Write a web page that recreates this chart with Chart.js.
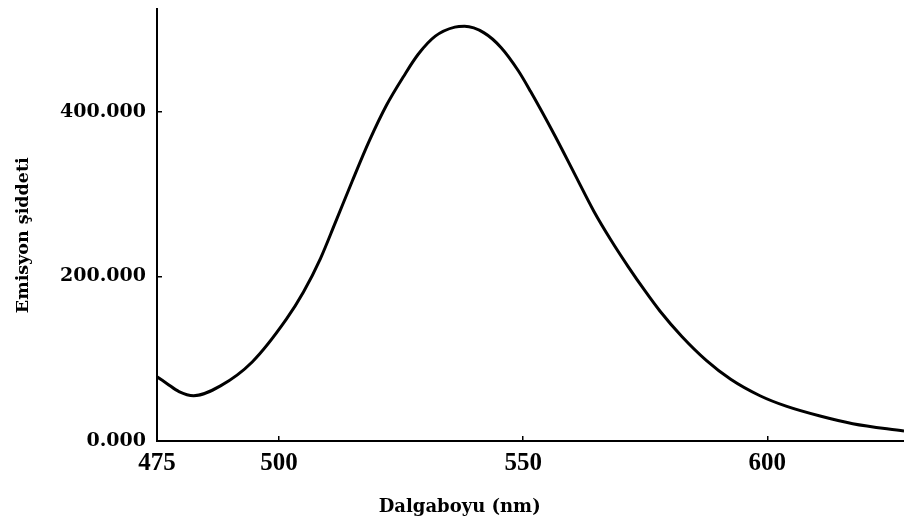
<!DOCTYPE html>
<html>
<head>
<meta charset="utf-8">
<script src="https://cdn.jsdelivr.net/npm/chart.js@4"></script>
<style>
  html, body { margin: 0; padding: 0; background: #fff; }
  canvas { display: block; }
</style>
</head>
<body>
<canvas id="spectrum" width="904" height="528"></canvas>
<script>
// emission spectrum, wavelength in nm
const wavelength = [475, 477, 479.5, 482.5, 488, 494.5, 501.5, 505, 508.5, 511.5, 515, 518.5, 522, 525.5, 528.5, 532, 536, 538, 542, 545.5, 549, 551.5, 556.5, 560.5, 564.5, 568, 571.5, 575, 578, 582.5, 587.5, 592.5, 598.5, 604, 611, 617.5, 628];
const intensity = [78, 70, 60, 55, 67, 96, 148, 181, 222, 265, 316, 365, 408, 443, 470, 492, 503, 504, 496, 478, 450, 425, 371, 325, 279, 244, 212, 182, 158, 127, 98, 75, 55, 42, 30, 21, 12];

const xTicks = [475, 500, 550, 600];
const yTicks = [0, 200, 400];
const xTitle = "Dalgaboyu (nm)";
const yTitle = "Emisyon şiddeti";

// axis titles drawn by hand so they can sit off the chart-area centre
const axisTitles = {
  id: "axisTitles",
  afterDraw(chart) {
    const { ctx, scales } = chart;
    const x = scales.x;
    const y = scales.y;
    ctx.save();
    ctx.fillStyle = "#000";
    ctx.textAlign = "center";
    ctx.textBaseline = "middle";
    ctx.font = "bold 18px 'DejaVu Serif'";
    ctx.fillText(xTitle, x.getPixelForValue(537), x.bottom - 21);
    ctx.font = "bold 17.5px 'DejaVu Serif'";
    ctx.translate(y.left + 23, y.getPixelForValue(250));
    ctx.rotate(-Math.PI / 2);
    ctx.fillText(yTitle, 0, 0);
    ctx.restore();
  },
};

const points = wavelength.map((w, i) => ({ x: w, y: intensity[i] }));

new Chart(document.getElementById("spectrum"), {
  type: "line",
  data: {
    datasets: [
      {
        data: points,
        borderColor: "#000",
        borderWidth: 3,
        pointRadius: 0,
        cubicInterpolationMode: "monotone",
        fill: false,
      },
    ],
  },
  options: {
    responsive: false,
    animation: false,
    layout: { padding: { top: 9, right: 0, left: 0, bottom: 0 } },
    plugins: { legend: { display: false }, tooltip: { enabled: false } },
    scales: {
      x: {
        type: "linear",
        min: 475,
        max: 628,
        afterBuildTicks: (scale) => {
          scale.ticks = xTicks.map((v) => ({ value: v }));
        },
        afterFit: (scale) => {
          scale.height = 87;
          scale.paddingLeft = 0;
          scale.paddingRight = 0;
        },
        grid: { drawOnChartArea: false, tickLength: -5, color: "#000", lineWidth: 1.5 },
        border: { color: "#000", width: 2 },
        ticks: {
          color: "#000",
          padding: 13,
          maxRotation: 0,
          font: { family: "'Liberation Serif'", size: 25, weight: "bold" },
        },
      },
      y: {
        min: 0,
        max: 525,
        afterBuildTicks: (scale) => {
          scale.ticks = yTicks.map((v) => ({ value: v }));
        },
        afterFit: (scale) => {
          scale.width = 157;
          scale.paddingTop = 0;
          scale.paddingBottom = 0;
        },
        grid: { drawOnChartArea: false, tickLength: -5, color: "#000", lineWidth: 1.5 },
        border: { color: "#000", width: 2 },
        ticks: {
          color: "#000",
          padding: 16,
          callback: (v) => v.toFixed(3),
          font: { family: "'DejaVu Serif'", size: 19, weight: "bold" },
        },
      },
    },
  },
  plugins: [axisTitles],
});
</script>
</body>
</html>
